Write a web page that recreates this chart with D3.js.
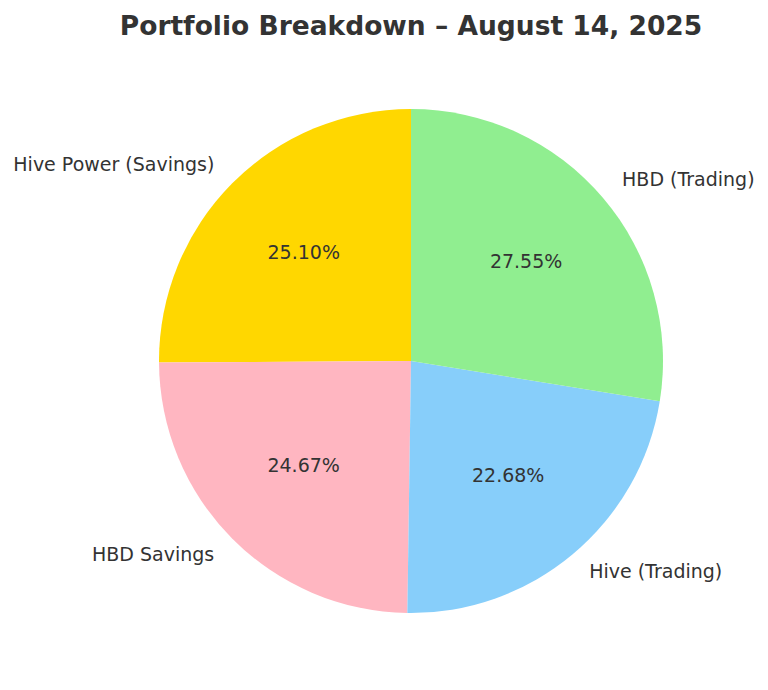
<!DOCTYPE html>
<html>
<head>
<meta charset="utf-8">
<script src="https://cdn.jsdelivr.net/npm/d3@7"></script>
<style>
  body { margin: 0; background: #fff; }
  text { font-family: "DejaVu Sans", sans-serif; fill: #333; }
</style>
</head>
<body>
<div id="chart"></div>
<script>
var svgWidth = 768;
var svgHeight = 690;

// slices in matplotlib order (counterclockwise from the top)
var labels = ["Hive Power (Savings)", "HBD Savings", "Hive (Trading)", "HBD (Trading)"];
var values = [25.10, 24.67, 22.68, 27.55];
var colors = ["#FFD700", "#FFB6C1", "#87CEFA", "#90EE90"];

var cx = 411, cy = 361, radius = 252;

var svg = d3.select("#chart")
    .append("svg")
    .attr("width", svgWidth)
    .attr("height", svgHeight);

svg.append("text")
    .attr("x", svgWidth / 2 + 27)
    .attr("y", 25)
    .attr("text-anchor", "middle")
    .attr("dominant-baseline", "central")
    .attr("font-size", 26.5)
    .attr("font-weight", "bold")
    .text("Portfolio Breakdown \u2013 August 14, 2025");

var g = svg.append("g")
    .attr("transform", `translate(${cx}, ${cy})`);

// counterclockwise, starting at 12 o'clock
var pie = d3.pie()
    .sort(null)
    .startAngle(0)
    .endAngle(-2 * Math.PI)
    .value(d => d);

var arcs = pie(values);

var arc = d3.arc().innerRadius(0).outerRadius(radius);

g.selectAll("path")
    .data(arcs)
    .enter()
    .append("path")
    .attr("d", arc)
    .attr("fill", (d, i) => colors[i]);

function mid(d) { return (d.startAngle + d.endAngle) / 2; }

// outer labels at 1.1r
g.selectAll(".lbl")
    .data(arcs)
    .enter()
    .append("text")
    .attr("class", "lbl")
    .attr("x", d => Math.sin(mid(d)) * radius * 1.1)
    .attr("y", d => -Math.cos(mid(d)) * radius * 1.1 - 2)
    .attr("text-anchor", d => Math.sin(mid(d)) < 0 ? "end" : "start")
    .attr("dominant-baseline", "central")
    .attr("font-size", 19)
    .text((d, i) => labels[i]);

// percentages at 0.6r
g.selectAll(".pct")
    .data(arcs)
    .enter()
    .append("text")
    .attr("class", "pct")
    .attr("x", d => Math.sin(mid(d)) * radius * 0.6)
    .attr("y", d => -Math.cos(mid(d)) * radius * 0.6 - 2)
    .attr("text-anchor", "middle")
    .attr("dominant-baseline", "central")
    .attr("font-size", 19)
    .text(d => d.value.toFixed(2) + "%");
</script>
</body>
</html>
